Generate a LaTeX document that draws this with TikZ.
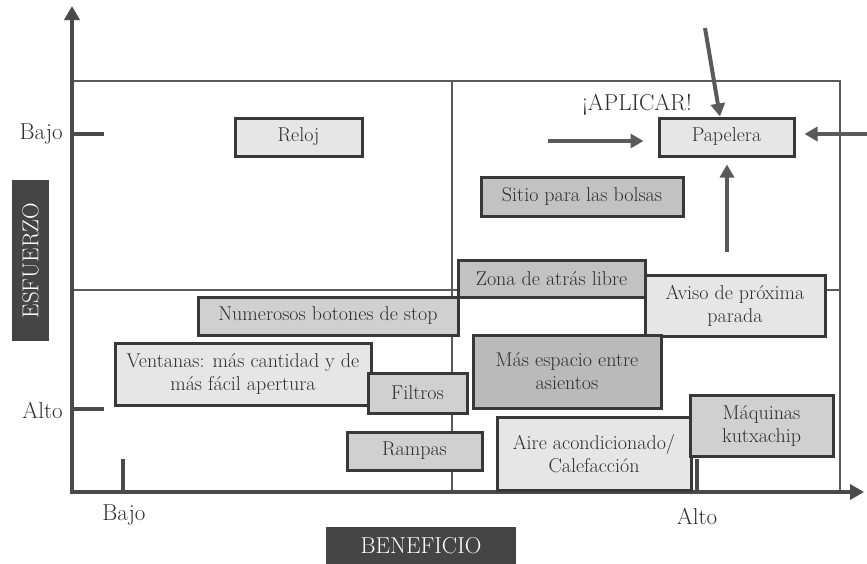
\documentclass[tikz,border=0pt]{standalone}
\usepackage{fontspec}
\usetikzlibrary{arrows.meta}
\definecolor{axisgray}{HTML}{4A4A4A}
\definecolor{framegray}{HTML}{5A5A5A}
\definecolor{edgegray}{HTML}{383838}
\definecolor{txtgray}{HTML}{2E2E2E}
\definecolor{fillA}{HTML}{E6E6E6}
\definecolor{fillB}{HTML}{D0D0D0}
\definecolor{fillC}{HTML}{C2C2C2}
\definecolor{fillD}{HTML}{BABABA}
\definecolor{tagdark}{HTML}{454545}
\newcommand\mybxfont{\fontsize{20}{23}\selectfont}
\newcommand\myaxfont{\fontsize{23}{26}\selectfont}
\tikzset{
  itembox/.style={draw=edgegray, line width=3pt, inner sep=0pt, align=center,
    font=\mybxfont, text=txtgray},
  axisline/.style={draw=axisgray, line width=4pt},
  frameline/.style={draw=framegray, line width=2.4pt},
  tickline/.style={draw=axisgray, line width=3.5pt},
  bigarrow/.style={draw=framegray, line width=4pt,
    -{Triangle[length=13pt,width=14pt]}},
  axlabel/.style={font=\myaxfont, text=txtgray, inner sep=0pt},
  tag/.style={fill=tagdark, text=white, font=\myaxfont, inner sep=0pt}
}
\begin{document}
\begin{tikzpicture}[x=1pt,y=-1pt]
\useasboundingbox (0,0) rectangle (867,563);

% quadrant frame
\draw[frameline] (72,81) -- (840,81) -- (840,492);
\draw[frameline] (452,81) -- (452,492);
\draw[frameline] (72,290) -- (840,290);

% axes
\draw[axisline, -{Triangle[length=14pt,width=15pt]}] (72,494) -- (72,6);
\draw[axisline, -{Triangle[length=14pt,width=15pt]}] (70,492) -- (864,492);

% ticks
\draw[tickline] (72,134) -- (104,134);
\draw[tickline] (72,409) -- (104,409);
\draw[tickline] (123,459) -- (123,492);
\draw[tickline] (697,459) -- (697,492);

% tick labels
\node[axlabel, anchor=east] (ybajo) at (63,134) {Bajo};
\node[axlabel, anchor=east] (yalto) at (63,410) {Alto};
\node[axlabel] (xbajo) at (124,515) {Bajo};
\node[axlabel] (xalto) at (697,516) {Alto};

% axis titles
\node[tag, rotate=90, minimum width=161pt, minimum height=37pt] (esf) at (30.5,260.5) {ESFUERZO};
\node[tag, minimum width=190pt, minimum height=38pt] (ben) at (421,546) {BENEFICIO};

% items
\node[itembox, fill=fillA, minimum width=127pt, minimum height=38pt] (reloj) at (298.5,137) {Reloj};
\node[itembox, fill=fillA, minimum width=135pt, minimum height=38pt] (papelera) at (726.5,137) {Papelera};
\node[itembox, fill=fillC, minimum width=202pt, minimum height=39pt] (sitio) at (582,196.5) {Sitio para las bolsas};
\node[itembox, fill=fillC, minimum width=187pt, minimum height=37pt] (zona) at (551.5,278.5) {Zona de atrás libre};
\node[itembox, fill=fillA, minimum width=180pt, minimum height=61pt] (aviso) at (735,305.5) {Aviso de próxima\\parada};
\node[itembox, fill=fillB, minimum width=260pt, minimum height=38pt] (stop) at (328,316) {Numerosos botones de stop};
\node[itembox, fill=fillA, minimum width=256pt, minimum height=62pt] (ventanas) at (243,374) {Ventanas: más cantidad y de\\más fácil apertura};
\node[itembox, fill=fillB, minimum width=99pt, minimum height=40pt] (filtros) at (417.5,393) {Filtros};
\node[itembox, fill=fillB, minimum width=135pt, minimum height=38pt] (rampas) at (414.5,451) {Rampas};
\node[itembox, fill=fillD, minimum width=188pt, minimum height=73pt] (espacio) at (567,371.5) {Más espacio entre\\asientos};
\node[itembox, fill=fillA, minimum width=194pt, minimum height=73pt] (aire) at (594,453.5) {Aire acondicionado/\\Calefacción};
\node[itembox, fill=fillB, minimum width=143pt, minimum height=61pt] (maquinas) at (761.5,425.5) {Máquinas\\kutxachip};

% call to action
\node[axlabel] (aplicar) at (637,105) {¡APLICAR!};

% arrows pointing at the bin
\coordinate (fromtop) at (705,28);
\coordinate (fromleft) at (548,141);
\coordinate (fromright) at (869,134);
\coordinate (frombelow) at (727,252);
\draw[bigarrow] (fromtop) -- (papelera.north -| 720,0);
\draw[bigarrow, shorten >=14pt] (fromleft) -- (fromleft -| papelera.west);
\draw[bigarrow, shorten >=9pt] (fromright) -- (fromright -| papelera.east);
\draw[bigarrow, shorten >=7pt] (frombelow) -- (frombelow |- papelera.south);
\end{tikzpicture}
\end{document}
